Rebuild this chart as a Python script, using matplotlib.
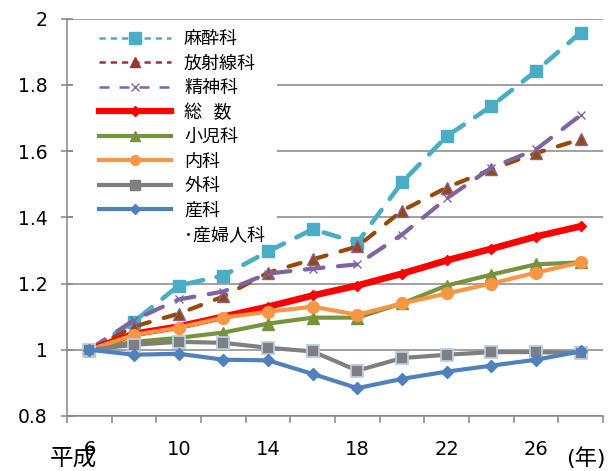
import matplotlib.pyplot as plt
from matplotlib.lines import Line2D
from matplotlib.patches import Rectangle
import numpy as np

plt.rcParams['font.family'] = ['DejaVu Sans', 'Noto Sans CJK JP']

years = [6, 8, 10, 12, 14, 16, 18, 20, 22, 24, 26, 28]
tick_years = ['6', '10', '14', '18', '22', '26']

masui = [1.0, 1.085, 1.194, 1.224, 1.297, 1.364, 1.324, 1.506, 1.645, 1.736, 1.842, 1.958]
hoshasen = [1.0, 1.07, 1.109, 1.161, 1.233, 1.273, 1.312, 1.42, 1.49, 1.545, 1.594, 1.636]
seishin = [1.0, 1.09, 1.152, 1.176, 1.23, 1.245, 1.258, 1.348, 1.457, 1.55, 1.605, 1.709]
sosu = [1.0, 1.048, 1.07, 1.1, 1.13, 1.164, 1.194, 1.23, 1.27, 1.305, 1.342, 1.373]
shoni = [1.0, 1.024, 1.036, 1.052, 1.079, 1.097, 1.097, 1.14, 1.194, 1.227, 1.258, 1.264]
naika = [1.0, 1.045, 1.067, 1.097, 1.115, 1.13, 1.106, 1.14, 1.17, 1.2, 1.233, 1.264]
geka = [1.0, 1.015, 1.024, 1.021, 1.006, 0.995, 0.937, 0.975, 0.985, 0.993, 0.993, 0.99]
sanka = [1.0, 0.985, 0.988, 0.97, 0.968, 0.927, 0.884, 0.912, 0.934, 0.952, 0.97, 0.995]

x = np.arange(len(years))

fig = plt.figure(figsize=(6.11, 4.71), dpi=100)
ax = fig.add_axes([0.1097, 0.1168, 0.8773, 0.8435])

ax.plot(x, masui, color='#4bacc6', lw=3.3, dashes=(3.5, 3), dash_capstyle='round',
        marker='s', ms=8.5, mfc='#4bacc6', mec='#4bacc6')
ax.plot(x, hoshasen, color='#984807', lw=3.0, dashes=(3, 3.5), dash_capstyle='round',
        marker='^', ms=8, mfc='#984807', mec='#8064a2')
ax.plot(x, seishin, color='#8064a2', lw=3.0, dashes=(4.5, 3.5), dash_capstyle='round',
        marker='x', ms=6, mew=1.0, mec='#8064a2')
ax.plot(x, sosu, color='#ff0000', lw=4.8, marker='D', ms=5, mfc='#ff0000', mec='#ff0000')
ax.plot(x, shoni, color='#77933c', lw=3.0, marker='^', ms=8, mfc='#77933c', mec='#77933c')
ax.plot(x, naika, color='#f79646', lw=3.0, marker='o', ms=8.5, mfc='#f79646', mec='#f79646')
ax.plot(x, geka, color='#7f7f7f', lw=3.0, marker='s', ms=8, mfc='#7f7f7f', mec='#b9cde5', mew=1.3)
ax.plot(x, sanka, color='#4f81bd', lw=3.0, marker='D', ms=6.5, mfc='#4f81bd', mec='#4f81bd')

ax.set_ylim(0.8, 2.0)
ax.set_xlim(-0.5, len(years) - 0.5)
ax.set_yticks(np.arange(0.8, 2.01, 0.2))
ax.set_yticklabels(['0.8', '1', '1.2', '1.4', '1.6', '1.8', '2'])
ax.yaxis.grid(True, color='#868686', lw=1.1)
ax.set_axisbelow(True)

ax.set_xticks(np.arange(-0.5, len(years), 1.0))
ax.set_xticklabels([])
ax.set_xticks(x[::2], minor=True)
ax.set_xticklabels(tick_years, minor=True)
ax.tick_params(axis='x', which='major', length=5, width=1.1, color='#868686', direction='out')
ax.tick_params(axis='x', which='minor', length=0, labelsize=14, pad=17)
ax.tick_params(axis='y', length=8, width=1.1, color='#868686', direction='inout',
               labelsize=13.5, pad=10)

for s in ['top', 'right']:
    ax.spines[s].set_visible(False)
for s in ['left', 'bottom']:
    ax.spines[s].set_color('#868686')
    ax.spines[s].set_linewidth(1.1)

fig.text(0.082, 0.012, '平成', fontsize=17, ha='left', va='baseline')
fig.text(0.926, 0.012, '(年)', fontsize=16, ha='left', va='baseline')

# white box behind the legend, hides the gridlines there
ax.add_patch(Rectangle((0.011, 0.42), 0.381, 0.575, transform=ax.transAxes,
                       facecolor='white', edgecolor='none', zorder=1))

handles = [
    Line2D([], [], color='#4bacc6', lw=1.8, dashes=(2.5, 2), marker='s', ms=8),
    Line2D([], [], color='#953735', lw=1.8, dashes=(2.5, 2), marker='^', ms=7),
    Line2D([], [], color='#8064a2', lw=1.8, dashes=(4, 4), marker='x', ms=6, mew=1.0),
    Line2D([], [], color='#ff0000', lw=4.5, marker='D', ms=5),
    Line2D([], [], color='#77933c', lw=3.0, marker='^', ms=7),
    Line2D([], [], color='#f79646', lw=3.0, marker='o', ms=7),
    Line2D([], [], color='#7f7f7f', lw=3.0, marker='s', ms=7),
    Line2D([], [], color='#4f81bd', lw=3.0, marker='D', ms=5),
    Line2D([], [], color='none'),
]
labels = ['麻酔科', '放射線科', '精神科', '総  数', '小児科', '内科', '外科', '産科', '･産婦人科']
leg = ax.legend(handles, labels, loc='upper left', bbox_to_anchor=(0.029, 1.012),
                fontsize=13, handlelength=4.0, handletextpad=0.72, labelspacing=0.36,
                frameon=False, borderpad=0.4)

fig.savefig('out.png', dpi=100)
